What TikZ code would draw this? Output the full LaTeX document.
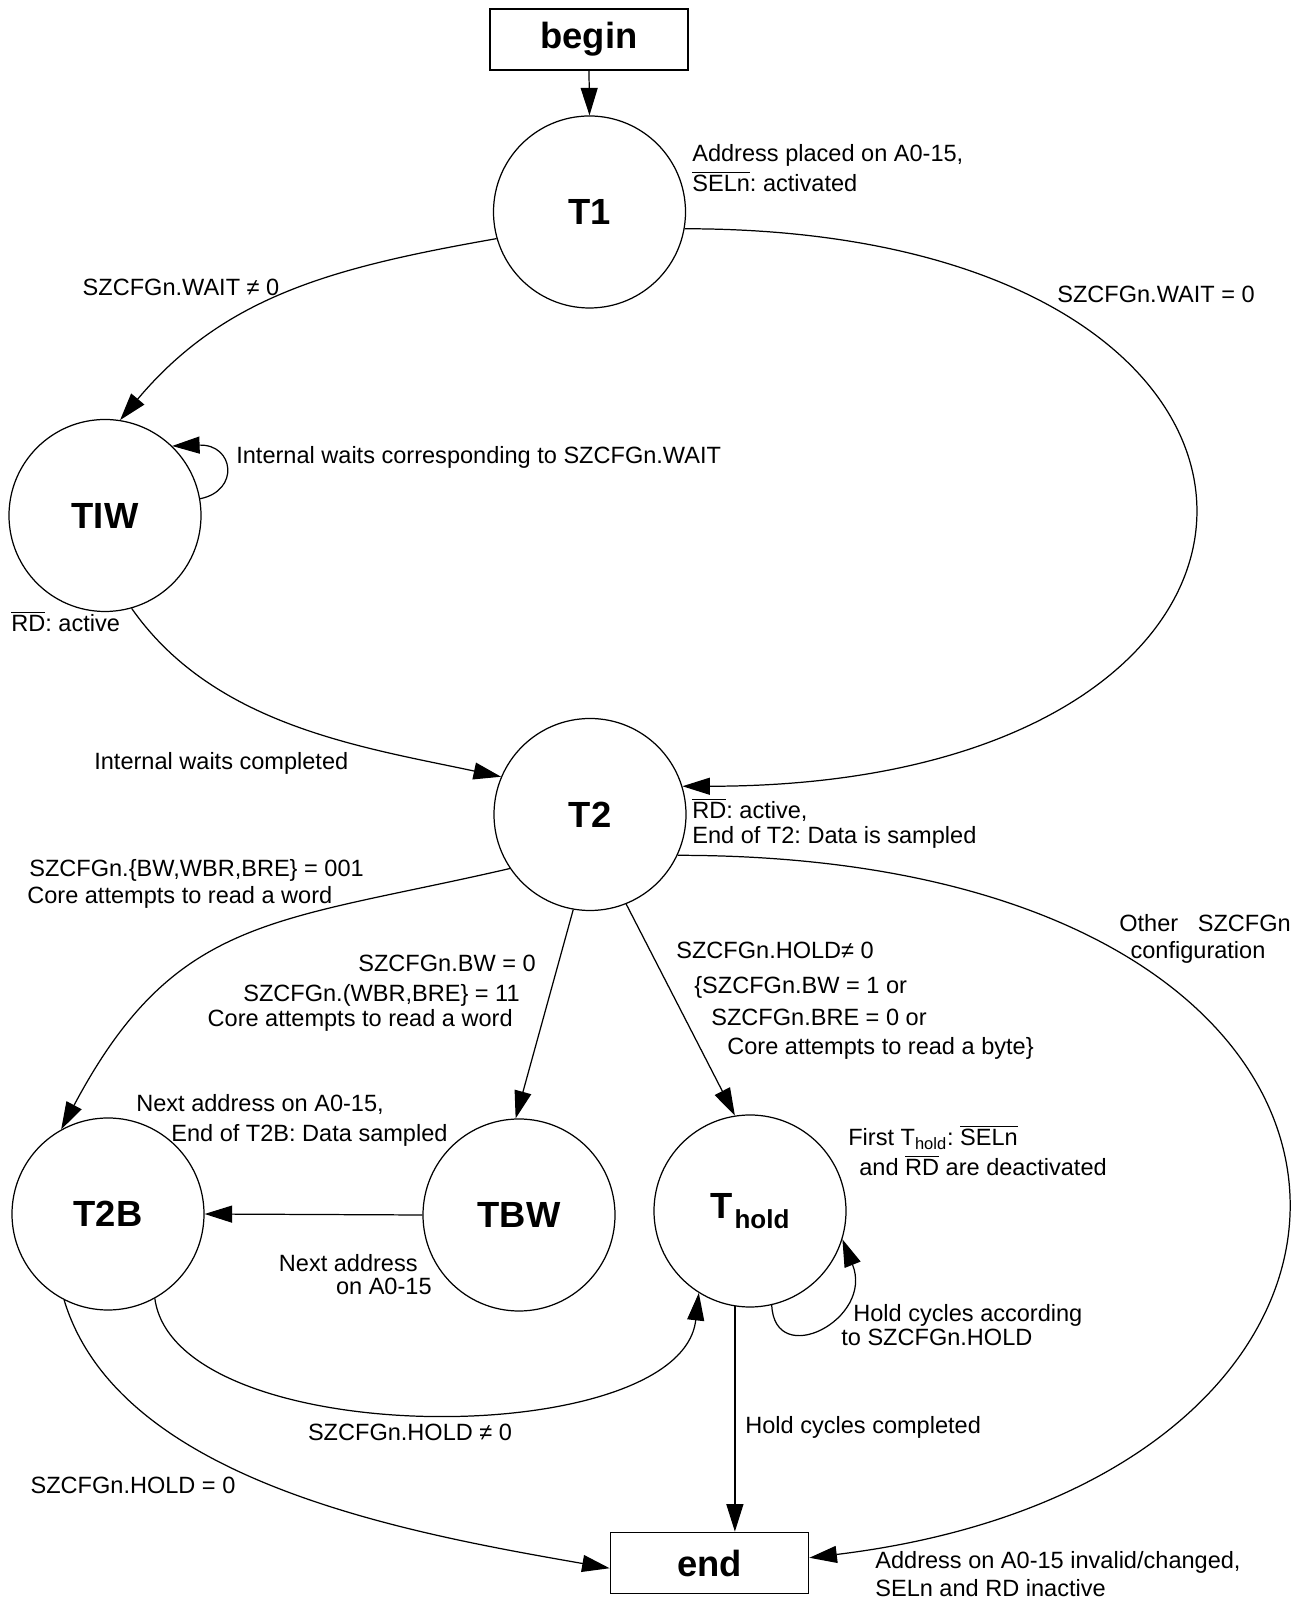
\documentclass[tikz,border=0pt]{standalone}
\usepackage{fontspec}
\setmainfont{Liberation Sans}
\usetikzlibrary{arrows.meta}
\frenchspacing

\newcommand{\ovl}[1]{$\overline{\mbox{#1}}$}

\begin{document}
\begin{tikzpicture}[
    state/.style={circle, draw, line width=0.7pt, minimum size=3.84cm, inner sep=0pt, font=\fontsize{20.7}{24}\selectfont\bfseries},
    term/.style={rectangle, draw, line width=1pt, minimum width=3.96cm, minimum height=1.22cm, inner sep=0pt, font=\fontsize{20.7}{24}\selectfont\bfseries},
    lbl/.style={inner sep=0pt, font=\fontsize{13.4}{16}\selectfont},
    trans/.style={line width=0.7pt, -{Triangle[length=5.5mm, width=3.4mm]}}
]
    \useasboundingbox (0, 0) rectangle (26.14, 32.12);

    \node[term] (begin) at (11.78, 31.33) {begin};
    \node[state] (T1) at (11.79, 27.88) {T1};
    \node[state] (TIW) at (2.10, 21.81) {TIW};
    \node[state] (T2) at (11.80, 15.83) {T2};
    \node[state] (T2B) at (2.16, 7.84) {T2B};
    \node[state] (TBW) at (10.38, 7.82) {TBW};
    \node[state] (Thold) at (15.00, 7.90) {T\kern1pt\raisebox{-0.2cm}{\fontsize{14.8}{16}\selectfont hold}};
    \node[term] (end) at (14.19, 0.86) {end};

    \draw[trans] (begin.south) -- (T1.north);
    \draw[trans] (T1.196) to[out=190, in=50] (TIW.81);
    \draw[trans] (T1.-10) .. controls +(13.6, 0) and +(13.6, 0) .. (T2.17);
    \draw[trans] (TIW.10) .. controls +(0.8, 0.16) and +(1.24, 0.04) .. (TIW.46);
    \draw[trans] (TIW.-74) to[out=-55, in=168, looseness=0.9] (T2.157);
    \draw[trans] (T2.214) to[out=193, in=62, looseness=1.2] (T2B.119);
    \draw[trans] (T2.-100) -- (TBW.92);
    \draw[trans] (T2.-68) -- (Thold.99);
    \draw[trans] (T2.-25.5) .. controls +(15.68, 0) and +(13.2, 1.6) .. (end.3);
    \draw[trans] (TBW.180) -- (T2B.0);
    \draw[trans] (Thold.-77) .. controls +(0.06, -1.3) and +(0.64, -1.6) .. (Thold.-17);
    \draw[trans] (Thold.-99.5) -- (Thold.-99.5 |- end.north);
    \draw[trans] (T2B.-61) .. controls +(0.42, -3.08) and +(-0.36, -3.18) .. (Thold.-122);
    \draw[trans] (T2B.-117) .. controls +(1.1, -3.64) and +(-4.0, 0.7) .. (end.183);

    % labels
    \node[lbl, anchor=base west] (t1note1) at (13.84, 28.89) {Address placed on A0-15,};
    \node[lbl, anchor=base west] (t1note2) at (13.84, 28.29) {\ovl{SELn}: activated};
    \node[lbl, anchor=base] (waitne) at (3.62, 26.21) {SZCFGn.WAIT ≠ 0};
    \node[lbl, anchor=base] (waiteq) at (23.12, 26.07) {SZCFGn.WAIT = 0};
    \node[lbl, anchor=base west] (tiwloop) at (4.72, 22.85) {Internal waits corresponding to SZCFGn.WAIT};
    \node[lbl, anchor=base west] (tiwnote) at (0.22, 19.49) {\ovl{RD}: active};
    \node[lbl, anchor=base west] (waitdone) at (1.88, 16.73) {Internal waits completed};
    \node[lbl, anchor=base west] (t2note1) at (13.84, 15.75) {\ovl{RD}: active,};
    \node[lbl, anchor=base west] (t2note2) at (13.84, 15.25) {End of T2: Data is sampled};
    \node[lbl, anchor=base west] (to2b1) at (0.58, 14.59) {SZCFGn.\{BW,WBR,BRE\} = 001};
    \node[lbl, anchor=base west] (to2b2) at (0.54, 14.05) {Core attempts to read a word};
    \node[lbl, anchor=base east] (tobw1) at (10.72, 12.69) {SZCFGn.BW = 0};
    \node[lbl, anchor=base east] (tobw2) at (10.40, 12.09) {SZCFGn.(WBR,BRE\} = 11};
    \node[lbl, anchor=base east] (tobw3) at (10.26, 11.59) {Core attempts to read a word};
    \node[lbl, anchor=base west] (tohold1) at (13.52, 12.95) {SZCFGn.HOLD≠ 0};
    \node[lbl, anchor=base west] (tohold2) at (13.88, 12.25) {\{SZCFGn.BW = 1 or};
    \node[lbl, anchor=base west] (tohold3) at (14.22, 11.61) {SZCFGn.BRE = 0 or};
    \node[lbl, anchor=base west] (tohold4) at (14.54, 11.03) {Core attempts to read a byte\}};
    \node[lbl, anchor=base] (other1) at (24.10, 13.49) {Other~~~SZCFGn};
    \node[lbl, anchor=base] (other2) at (23.96, 12.95) {configuration};
    \node[lbl, anchor=base west] (t2bnote1) at (2.72, 9.89) {Next address on A0-15,};
    \node[lbl, anchor=base west] (t2bnote2) at (3.42, 9.29) {End of T2B: Data sampled};
    \node[lbl, anchor=base east] (bwnote1) at (8.36, 6.69) {Next address};
    \node[lbl, anchor=base east] (bwnote2) at (8.64, 6.23) {on A0-15};
    \node[lbl, anchor=base west] (holdnote1) at (16.96, 9.21) {First T\textsubscript{hold}: \ovl{SELn}};
    \node[lbl, anchor=base west] (holdnote2) at (17.18, 8.61) {and \ovl{RD} are deactivated};
    \node[lbl, anchor=base west] (holdloop1) at (17.06, 5.69) {Hold cycles according};
    \node[lbl, anchor=base west] (holdloop2) at (16.82, 5.21) {to SZCFGn.HOLD};
    \node[lbl, anchor=base west] (holddone) at (14.90, 3.45) {Hold cycles completed};
    \node[lbl, anchor=base] (holdne) at (8.20, 3.31) {SZCFGn.HOLD ≠ 0};
    \node[lbl, anchor=base] (holdeq) at (2.66, 2.25) {SZCFGn.HOLD = 0};
    \node[lbl, anchor=base west] (endnote1) at (17.50, 0.75) {Address on A0-15 invalid/changed,};
    \node[lbl, anchor=base west] (endnote2) at (17.50, 0.19) {SELn and RD inactive};
\end{tikzpicture}
\end{document}
